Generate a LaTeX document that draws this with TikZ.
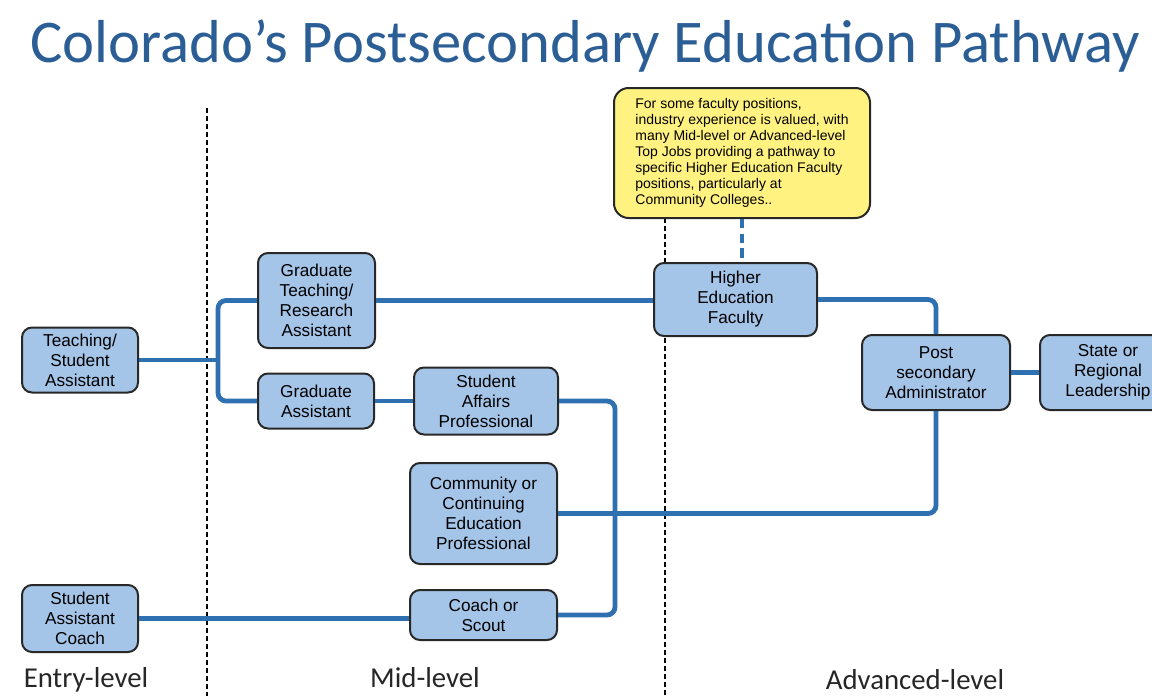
\documentclass[tikz,border=0pt]{standalone}
\usepackage{fontspec}
\setmainfont{Liberation Sans}
\newfontfamily\headfont{Carlito}
\usetikzlibrary{calc}

\definecolor{headblue}{RGB}{44,94,150}
\definecolor{boxblue}{RGB}{164,196,232}
\definecolor{lineblue}{RGB}{46,112,176}
\definecolor{noteyellow}{RGB}{255,242,128}
\definecolor{rimgray}{RGB}{40,40,40}

\tikzset{every picture/.style={line width=0.75pt}}
\tikzset{
  job/.style={draw=rimgray, line width=1.5pt, fill=boxblue, rounded corners=7.5pt,
    align=center, inner sep=0pt, font=\fontsize{12.9}{15}\selectfont},
  dims/.style 2 args={minimum width=#1*0.75pt, minimum height=#2*0.75pt},
  note/.style={draw=rimgray, line width=1.5pt, fill=noteyellow, rounded corners=11pt,
    align=left, inner sep=0pt, font=\fontsize{10.5}{12}\selectfont},
  path/.style={draw=lineblue, line width=3.6pt, rounded corners=6pt},
  divider/.style={draw=black, line width=1pt, dash pattern={on 3.5pt off 2.5pt}},
  level/.style={font=\headfont\fontsize{21.6}{24}\selectfont, text=black!85, inner sep=0pt}
}

\begin{document}
\begin{tikzpicture}[x=0.75pt,y=0.75pt,yscale=-1,xscale=1]
\useasboundingbox (0,0) rectangle (1152,696);

%Title
\node [font=\headfont\fontsize{45.5}{52}\selectfont, text=headblue, inner sep=0pt] (title) at (585,46) {Colorado’s Postsecondary Education Pathway};

%Dividers
\draw [divider] (207,108) -- (207,696);
\draw [divider] (665,218) -- (665,696);

%Entry-level jobs
\node [job, dims={116}{65}] (tsa) at (80,360) {Teaching/\\Student\\Assistant};
\node [job, dims={116}{67}] (sac) at (80,618.5) {Student\\Assistant\\Coach};

%Mid-level jobs
\node [job, dims={117}{95}] (gtra) at (316.5,300.5) {Graduate\\Teaching/\\Research\\Assistant};
\node [job, dims={116}{55}] (ga) at (316,401) {Graduate\\Assistant};
\node [job, dims={144}{67}] (sap) at (486,401) {Student\\Affairs\\Professional};
\node [job, dims={147}{101}] (cce) at (483.5,513.5) {Community or\\Continuing\\Education\\Professional};
\node [job, dims={147}{50}] (cos) at (483.5,615) {Coach or\\Scout};

%Advanced-level jobs
\node [job, dims={163}{73}] (hef) at (735.5,299.5) {Higher\\Education\\Faculty};
\node [job, dims={148}{75}] (psa) at (936,372.5) {Post\\secondary\\Administrator};
\node [job, dims={136}{75}] (srl) at (1108,372.5) {State or\\Regional\\Leadership};

%Note
\node [note, dims={256}{130}] (tip) at (742,153) {\begin{tabular}{@{}l@{}}For some faculty positions,\\industry experience is valued, with\\many Mid-level or Advanced-level\\Top Jobs providing a pathway to\\specific Higher Education Faculty\\positions, particularly at\\Community Colleges..\end{tabular}};

%Connectors
\coordinate (fork) at (218,360);
\coordinate (drop) at (615,500);
\draw [path] (tsa.east) -- (fork);
\draw [path] (gtra.west) -| (fork) |- (ga.west);
\draw [path] (gtra.east) -- (gtra.east -| hef.west);
\draw [path] (hef.east) -| (psa.north);
\draw [path] (psa.east) -- (srl.west);
\draw [path] (psa.south) |- (cce.east);
\draw [path] (ga.east) -- (sap.west);
\draw [path] (sap.east) -| (drop) |- (cos.east);
\draw [path] (sac.east) -- (sac.east -| cos.west);
\draw [path, rounded corners=0pt, dash pattern={on 7pt off 4pt}] (tip.south) -- (tip.south |- hef.north);

%Levels
\node [level] (entry) at (86,680) {Entry-level};
\node [level] (mid) at (425,678) {Mid-level};
\node [level] (adv) at (915,680) {Advanced-level};

\end{tikzpicture}
\end{document}
